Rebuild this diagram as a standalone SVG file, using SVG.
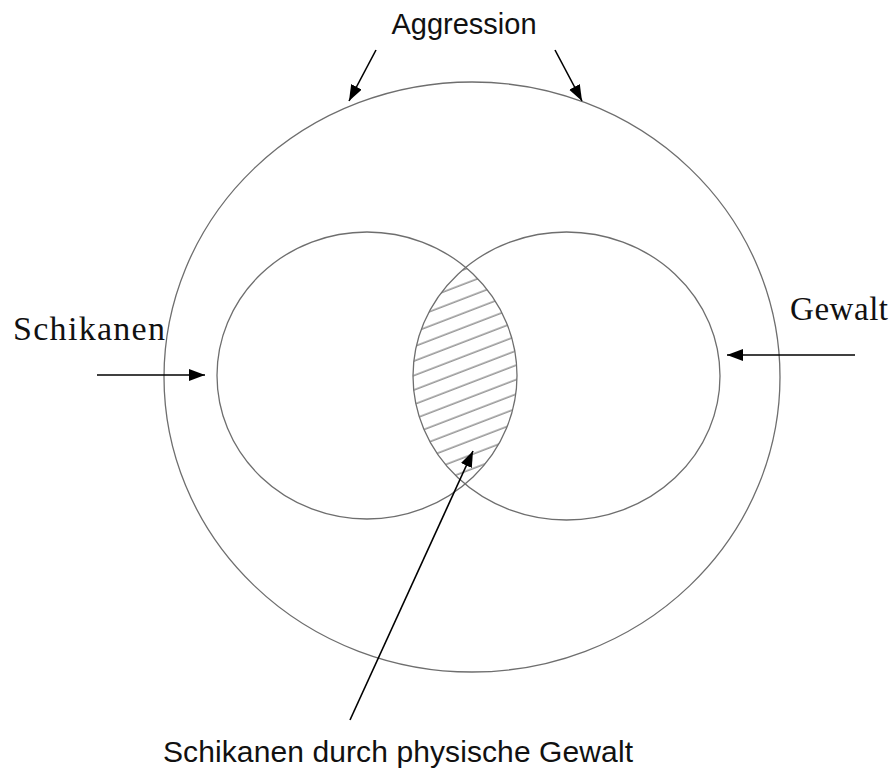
<svg xmlns="http://www.w3.org/2000/svg" width="896" height="769" viewBox="0 0 896 769">
  <style>
    .ring { fill: none; stroke: #6e6e6e; stroke-width: 1.3; }
    .arrow { stroke: #000; stroke-width: 1.6; fill: none; marker-end: url(#head); }
    .sans { font-family: "Liberation Sans", Arial, sans-serif; fill: #111; }
    .serif { font-family: "Liberation Serif", "Times New Roman", serif; fill: #111; }
  </style>
  <defs>
    <marker id="head" markerUnits="userSpaceOnUse" markerWidth="18" markerHeight="14" refX="16" refY="6" orient="auto">
      <path d="M0,0 L16,6 L0,12 Z" fill="#000"/>
    </marker>
    <pattern id="hatch" patternUnits="userSpaceOnUse" width="40" height="13.5" patternTransform="rotate(-21 466 376)">
      <line x1="0" y1="6" x2="40" y2="6" stroke="#777" stroke-width="1.2"/>
    </pattern>
    <clipPath id="cL"><ellipse cx="367" cy="375.5" rx="150" ry="143.5"/></clipPath>
    <clipPath id="cR"><ellipse cx="566.5" cy="376" rx="153.5" ry="144"/></clipPath>
  </defs>
  <rect width="896" height="769" fill="#fff"/>

  <g id="aggression">
    <ellipse class="ring" cx="472" cy="377" rx="308" ry="295"/>
    <text class="sans" x="464" y="34" font-size="29" text-anchor="middle">Aggression</text>
  </g>

  <g id="lens">
    <g clip-path="url(#cL)">
      <rect x="400" y="250" width="130" height="250" fill="url(#hatch)" clip-path="url(#cR)"/>
    </g>
  </g>

  <g id="schikanen">
    <ellipse class="ring" cx="367" cy="375.5" rx="150" ry="143.5"/>
    <text class="serif" x="13" y="340" font-size="34" textLength="152" lengthAdjust="spacing">Schikanen</text>
  </g>

  <g id="gewalt">
    <ellipse class="ring" cx="566.5" cy="376" rx="153.5" ry="144"/>
    <text class="serif" x="790" y="320" font-size="33" textLength="98" lengthAdjust="spacing">Gewalt</text>
  </g>

  <g id="label-bottom">
    <text class="sans" x="163" y="762" font-size="30" textLength="470" lengthAdjust="spacing">Schikanen durch physische Gewalt</text>
  </g>

  <g id="connectors">
    <line class="arrow" x1="376" y1="50" x2="349" y2="101"/>
    <line class="arrow" x1="555" y1="50" x2="582" y2="101"/>
    <line class="arrow" x1="97" y1="375" x2="205" y2="375"/>
    <line class="arrow" x1="855" y1="355" x2="727" y2="355"/>
    <line class="arrow" x1="350" y1="720" x2="473" y2="451"/>
  </g>
</svg>
